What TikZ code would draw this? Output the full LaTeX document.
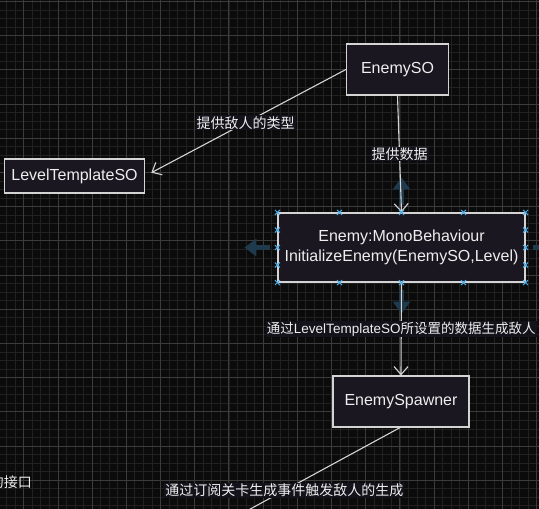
\documentclass[tikz,border=0pt]{standalone}
\usepackage{fontspec}
\setmainfont{Liberation Sans}
\newfontfamily\cjk{Noto Sans CJK SC}
\usepackage{tikz}
\usetikzlibrary{positioning}
\usetikzlibrary{calc}
\usetikzlibrary{arrows.meta}

\definecolor{canvasBg}{RGB}{11,11,11}
\definecolor{gridMinor}{RGB}{33,33,33}
\definecolor{gridMajor}{RGB}{60,60,60}
\definecolor{boxFill}{RGB}{26,23,33}
\definecolor{boxLine}{RGB}{212,212,212}
\definecolor{labelBg}{RGB}{20,18,26}
\definecolor{inkWhite}{RGB}{238,238,238}
\definecolor{handleBlue}{RGB}{72,170,230}
\definecolor{hintArrow}{RGB}{30,58,76}

\tikzset{
	classbox/.style={draw=boxLine, fill=boxFill, line width=1.2pt, text=inkWhite,
		font=\fontsize{16}{20}\selectfont, inner sep=0pt, align=center},
	flow/.style={draw=boxLine, line width=1.1pt, -{Straight Barb[length=8pt,width=14pt]}},
	flowlabel/.style={fill=labelBg, text=inkWhite, font=\fontsize{14}{17}\selectfont, inner sep=1pt},
	hint/.style={draw=hintArrow, line width=5pt, -{Triangle[length=12pt,width=17pt]}},
	handle/.style={draw=handleBlue, line width=1pt}
}

\begin{document}
\begin{tikzpicture}[x=1pt, y=-1pt]
\useasboundingbox (0,0) rectangle (539,509);
\fill[canvasBg] (0,0) rectangle (539,509);

% grid, snapped to whole pixels
\foreach \k in {0,...,66}
	\draw[gridMinor, line width=1pt] ({round(-10.9+8.55*\k)+0.5},0) -- ++(0,509);
\foreach \k in {0,...,60}
	\draw[gridMinor, line width=1pt] (0,{round(1+8.55*\k)+0.5}) -- ++(539,0);
\foreach \k in {-1,...,15}
	\draw[gridMajor, line width=1pt] ({round(23.3+34.2*\k)+0.5},0) -- ++(0,509);
\foreach \k in {0,...,15}
	\draw[gridMajor, line width=1pt] (0,{round(1+34.2*\k)+0.5}) -- ++(539,0);

% ---

\node[
	classbox,
	minimum width=102pt,
	minimum height=51pt
] (enemySO) at (397.5,69.5) {EnemySO};

\node[
	classbox,
	minimum width=140pt,
	minimum height=34pt
] (levelTemplate) at (74.5,176) {LevelTemplateSO};

\node[
	classbox,
	minimum width=247pt,
	minimum height=69pt
] (enemyMono) at (401.5,247.5) {Enemy:MonoBehaviour\\InitializeEnemy(EnemySO,Level)};

\node[
	classbox,
	minimum width=136pt,
	minimum height=51pt
] (spawner) at (401,401.5) {EnemySpawner};

\coordinate (spawnEnd) at (230,520);

\node[
	text=inkWhite,
	font=\fontsize{14}{17}\selectfont\cjk,
	anchor=east,
	inner sep=0pt
] (leftNote) at (32,482) {的接口};

% --- selection hints

\draw[hint] ($(enemyMono.north) + (0,-7)$) -- ($(enemyMono.north) + (0,-35)$);
\draw[hint] ($(enemyMono.west) + (-7,0)$) -- ($(enemyMono.west) + (-33,0)$);
\draw[hint] ($(enemyMono.south) + (0,7)$) -- ($(enemyMono.south) + (0,31)$);
\draw[hint] ($(enemyMono.east) + (7,0)$) -- ($(enemyMono.east) + (33,0)$);

% ---

\draw[flow, shorten >=7pt] (enemySO.west) -- (levelTemplate.east)
	node[midway, flowlabel]{\cjk 提供敌人的类型};

\draw[flow] (enemySO.south) -- (enemyMono.north)
	node[midway, flowlabel]{\cjk 提供数据};

\draw[flow] (enemyMono.south) -- (spawner.north)
	node[midway, flowlabel, font=\fontsize{13.5}{16}\selectfont]{{\cjk 通过}LevelTemplateSO{\cjk 所设置的数据生成敌人}};

\draw[flow] ($(spawner.south) + (-1,0)$) -- (spawnEnd)
	node[pos=0.68, flowlabel]{\cjk 通过订阅关卡生成事件触发敌人的生成};

% --- handles

\foreach \p in {
	{enemyMono.north west}, {enemyMono.north}, {enemyMono.north east},
	{enemyMono.south west}, {enemyMono.south}, {enemyMono.south east},
	{enemyMono.west}, {enemyMono.east}}
	\draw[handle] (\p) +(-2.5,-2.5) -- +(2.5,2.5) +(-2.5,2.5) -- +(2.5,-2.5);
\foreach \f in {0.25,0.75} {
	\draw[handle] ($(enemyMono.north west)!\f!(enemyMono.north east)$) +(-2.5,-2.5) -- +(2.5,2.5) +(-2.5,2.5) -- +(2.5,-2.5);
	\draw[handle] ($(enemyMono.south west)!\f!(enemyMono.south east)$) +(-2.5,-2.5) -- +(2.5,2.5) +(-2.5,2.5) -- +(2.5,-2.5);
	\draw[handle] ($(enemyMono.north west)!\f!(enemyMono.south west)$) +(-2.5,-2.5) -- +(2.5,2.5) +(-2.5,2.5) -- +(2.5,-2.5);
	\draw[handle] ($(enemyMono.north east)!\f!(enemyMono.south east)$) +(-2.5,-2.5) -- +(2.5,2.5) +(-2.5,2.5) -- +(2.5,-2.5);
}

\end{tikzpicture}
\end{document}
